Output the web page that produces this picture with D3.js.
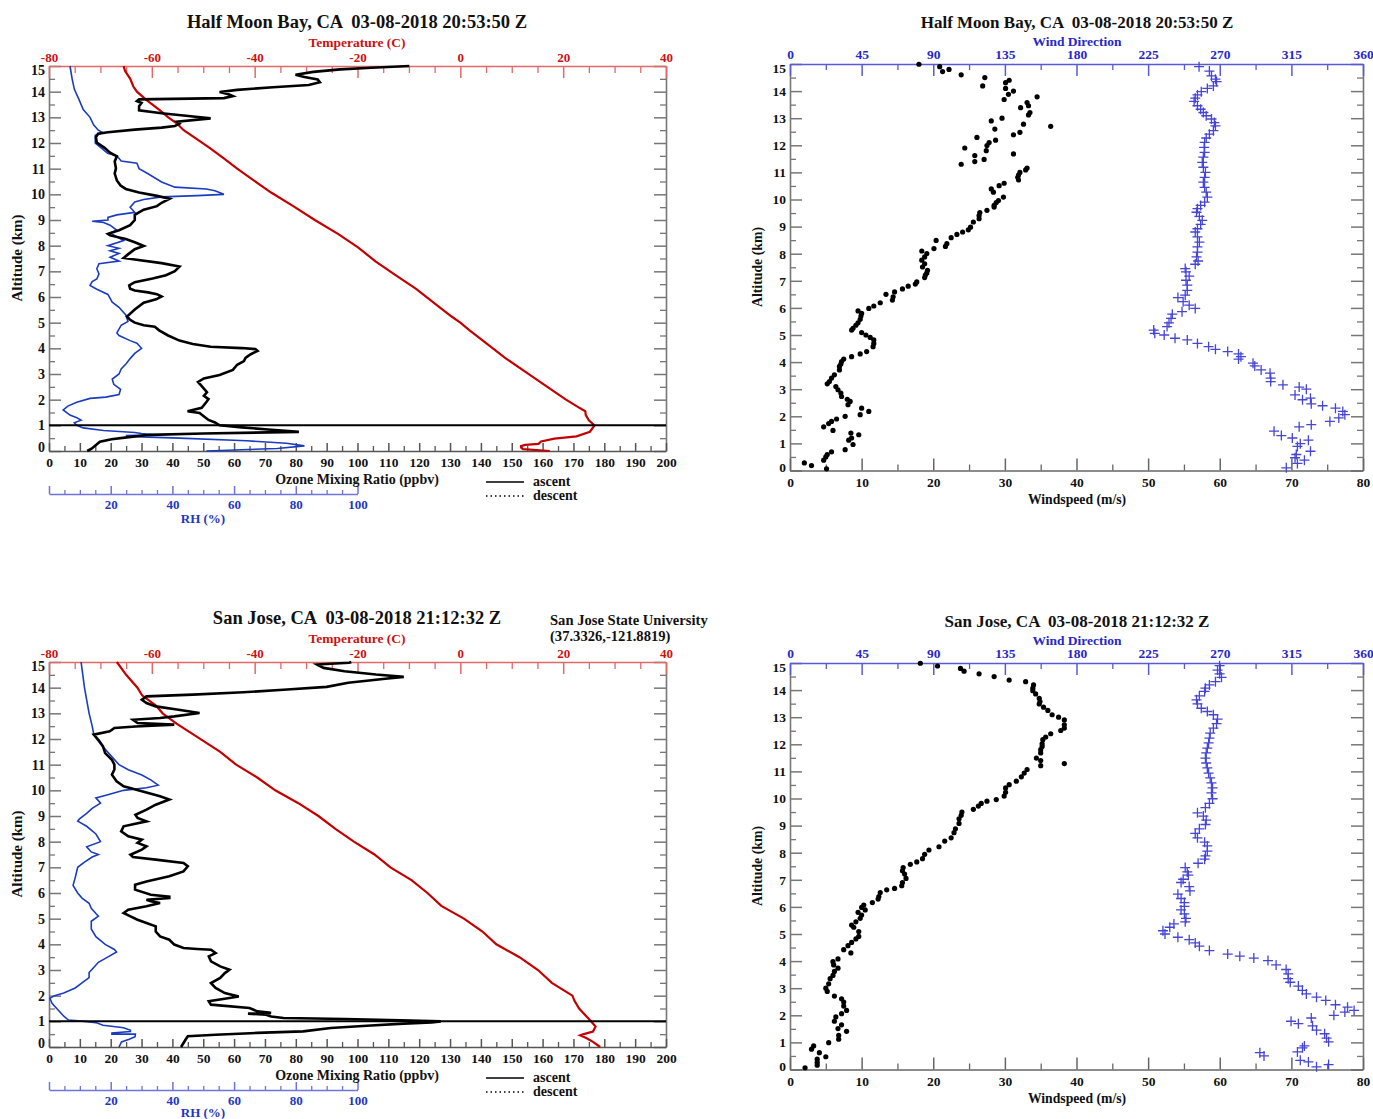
<!DOCTYPE html>
<html>
<head>
<meta charset="utf-8">
<script src="https://cdn.jsdelivr.net/npm/d3@7"></script>
<style>
body { margin: 0; background: #fff; }
svg text { font-family: "Liberation Serif", "Times New Roman", serif; font-weight: bold; }
</style>
</head>
<body>
<svg id="chart" width="1373" height="1119"></svg>
<script>
// ---- data: [altitude km, value] ----
const hmbOzone = [[0,12.4],[0.09,13.8],[0.36,16.5],[0.46,20.3],[0.53,25.2],[0.63,32.7],[0.68,50],[0.745,81],[0.84,71],[0.92,62.5],[1.0,55.3],[1.11,53.8],[1.21,51.7],[1.48,48.8],[1.55,44.9],[1.68,49.5],[1.89,50.9],[2.02,51.7],[2.15,50.2],[2.29,51.2],[2.49,49.8],[2.69,48.3],[2.83,50.2],[2.96,55.3],[3.16,59.6],[3.36,61],[3.5,63.2],[3.63,63.7],[3.77,65.4],[3.9,67.6],[3.97,66.9],[4.01,62.5],[4.06,52.4],[4.17,46.6],[4.3,42.3],[4.5,38.6],[4.7,35.7],[4.84,34.3],[4.9,30.7],[5.0,27.8],[5.11,26.3],[5.24,25.3],[5.51,27.8],[5.78,30.7],[5.91,34.7],[6.02,36.5],[6.11,35],[6.18,32.1],[6.25,27.8],[6.32,26.3],[6.45,26],[6.58,27.8],[6.72,33.6],[6.85,37.9],[7.01,40.8],[7.19,42.3],[7.32,36.5],[7.46,27.8],[7.52,24.2],[7.66,25.6],[7.86,27.8],[7.99,30.7],[8.13,27.8],[8.26,24.9],[8.4,19.8],[8.46,19.1],[8.6,22.7],[8.8,26.3],[9.0,27.8],[9.2,27.8],[9.4,30.7],[9.54,35],[9.67,36.5],[9.83,39.1],[9.94,35],[10.07,29.2],[10.21,24.9],[10.34,23.2],[10.54,22],[10.81,21.3],[11.01,21.7],[11.28,21.3],[11.48,22],[11.62,19.8],[11.82,17.9],[12.02,15.5],[12.22,15.2],[12.36,15.9],[12.42,19.1],[12.52,27.8],[12.6,36.5],[12.66,40.8],[12.76,42.3],[12.83,41.5],[12.96,52.4],[13.05,45.2],[13.16,36.5],[13.27,29.2],[13.43,29.2],[13.56,30],[13.63,28.5],[13.7,29.2],[13.75,56.7],[13.83,59.6],[13.9,58.2],[13.99,55.3],[14.07,61],[14.17,72.6],[14.26,84.2],[14.37,87.8],[14.48,87.1],[14.57,82.8],[14.66,79.9],[14.77,85.7],[14.87,94.4],[14.93,104.5],[15.0,116.8]];
const hmbRH = [[0.0,51],[0.1,74],[0.2,82.8],[0.3,77],[0.4,64],[0.5,42.3],[0.55,30],[0.6,24.9],[0.63,34.3],[0.68,30],[0.72,27.8],[0.8,17.7],[0.9,11.1],[1.0,9],[1.1,8.2],[1.2,10.4],[1.3,9],[1.4,6.8],[1.6,4.6],[1.75,6.1],[1.9,9],[2.05,13.3],[2.1,18.4],[2.2,22.7],[2.4,23.2],[2.6,21],[2.8,20.5],[3.0,22.7],[3.2,23.4],[3.4,25],[3.6,26.3],[3.8,27.8],[4.0,30],[4.2,28.5],[4.3,26.3],[4.5,22.7],[4.6,22],[4.9,23.4],[5.05,25.6],[5.3,24.9],[5.6,22.7],[5.8,20.5],[6.1,19.1],[6.3,15.5],[6.45,13.3],[6.6,14],[6.7,15.5],[6.9,16.2],[7.1,15.5],[7.3,16.2],[7.4,22.7],[7.55,19.8],[7.7,22.7],[7.8,19.8],[7.9,22.7],[8.0,19.1],[8.2,24.2],[8.3,22.7],[8.5,19.8],[8.6,22],[8.8,19.8],[8.9,17.7],[8.95,14],[9.0,19.1],[9.1,19.1],[9.2,22],[9.3,27.8],[9.5,26.3],[9.7,27.8],[9.8,30.7],[9.9,36.5],[9.95,48],[10.0,56.7],[10.14,53.8],[10.21,51],[10.28,40.8],[10.48,36.5],[10.8,32.1],[11.0,29.2],[11.21,28.5],[11.3,23.4],[11.5,22],[11.6,19],[11.8,17],[12.0,15],[12.3,15],[12.4,17.5],[12.5,16],[12.7,14.5],[13.0,13.3],[13.3,11.1],[13.7,9.7],[14.1,8.2],[14.5,7.5],[15.0,6.8]];
const hmbTemp = [[0,17.4],[0.07,12.2],[0.14,11.8],[0.19,11.8],[0.24,12.6],[0.28,15.2],[0.37,15.7],[0.48,18.3],[0.57,22.6],[0.75,25.2],[1.0,26.1],[1.2,25],[1.4,24.4],[1.55,24.3],[1.75,22.6],[2.02,20.4],[2.56,16.5],[3.09,12.6],[3.63,8.7],[4.17,5.2],[4.7,1.8],[5.0,0],[5.24,-1.7],[5.78,-5.2],[6.32,-8.6],[6.85,-12.6],[7.39,-16.5],[7.93,-19.9],[8.46,-23.8],[9.0,-28.3],[9.54,-32.5],[10.07,-36.8],[10.6,-40.6],[11.0,-43.4],[11.4,-46],[11.8,-48.7],[12.2,-51.6],[12.5,-53.8],[12.76,-55.1],[13.0,-56.8],[13.3,-58.6],[13.7,-61.2],[14.0,-62.9],[14.2,-63.6],[14.5,-64.2],[14.8,-65.2],[15.0,-65.5]];

const sjOzone = [[0.0,42.8],[0.29,44.3],[0.42,45],[0.48,54],[0.55,67.5],[0.61,82.4],[0.74,91.3],[0.83,103],[0.91,115],[0.96,124],[1.0,127],[1.04,114],[1.09,96],[1.13,76],[1.19,72],[1.26,70.4],[1.3,64.5],[1.33,72],[1.39,67.5],[1.52,65],[1.65,52.5],[1.78,51.8],[1.91,58.5],[1.97,61.5],[2.1,57],[2.3,54],[2.49,52.5],[2.69,55.5],[2.88,57],[3.01,58.5],[3.14,55.5],[3.34,52.5],[3.53,51.8],[3.66,54],[3.79,52.5],[3.82,48],[3.86,43.6],[3.99,40.6],[4.18,39],[4.31,36],[4.5,34.6],[4.7,34.6],[4.83,31.6],[4.96,28.7],[5.09,26.4],[5.22,24.2],[5.35,25.7],[5.48,31.6],[5.61,36],[5.68,33],[5.74,31.6],[5.8,39],[5.86,39],[5.93,33],[6.13,27.9],[6.32,27.9],[6.45,31.6],[6.65,39],[6.84,43.6],[7.04,45],[7.17,43.6],[7.3,34.6],[7.4,27.2],[7.49,26.4],[7.69,30.1],[7.82,31.6],[7.95,28.7],[8.08,30.1],[8.21,25.7],[8.4,23.4],[8.6,24.2],[8.79,31.6],[8.92,28.7],[9.05,28],[9.25,31.6],[9.44,34.6],[9.64,39],[9.77,36],[9.96,30.1],[10.16,24.2],[10.35,21.9],[10.61,20.4],[10.81,21.2],[11.0,21.2],[11.19,20.4],[11.45,18.2],[11.71,17.5],[11.97,16],[12.17,14.5],[12.3,19.7],[12.43,21.2],[12.49,28],[12.56,40.6],[12.62,28.7],[12.75,27.2],[12.82,36],[12.88,40.6],[13.01,48.8],[13.14,42],[13.27,34.6],[13.4,31.6],[13.53,30.1],[13.66,31.6],[13.73,46.6],[13.82,63],[13.92,76],[14.03,90],[14.19,97],[14.35,109],[14.42,115],[14.51,106],[14.64,95.8],[14.77,89],[14.9,86.9],[14.97,97.3],[15.0,98]];
const sjRH = [[0.0,22.7],[0.2,23.5],[0.3,26],[0.4,27.9],[0.5,28],[0.5,20.4],[0.55,20.4],[0.6,26.4],[0.65,26.4],[0.75,24.2],[0.85,17.5],[0.95,15.2],[1.0,11.5],[1.05,6.3],[1.2,4.8],[1.5,2.5],[1.7,1],[1.9,0.3],[2.0,1.8],[2.1,4.8],[2.3,8.5],[2.5,10.7],[2.7,13],[2.9,13],[3.1,14.5],[3.3,16],[3.5,19],[3.7,21.9],[3.8,21.2],[4.0,18.2],[4.3,15.2],[4.6,13.7],[4.9,13.7],[5.1,16],[5.2,15.2],[5.4,13.7],[5.6,13],[5.8,10.7],[6.0,9.3],[6.3,7.8],[6.6,8.5],[7.0,9.3],[7.2,11.5],[7.4,14],[7.5,16],[7.6,13.7],[7.8,12.2],[8.0,16.7],[8.3,15.2],[8.6,12.2],[8.8,9.3],[8.9,10],[9.1,12.2],[9.3,14],[9.5,16.7],[9.6,16],[9.7,15.2],[9.8,18.2],[10.0,24.2],[10.1,31.6],[10.2,35.4],[10.4,33.1],[10.6,30.1],[10.8,25.7],[11.0,22.7],[11.4,19.7],[11.7,17.5],[12.0,15.5],[12.2,14.5],[12.5,14],[13.0,13],[14.0,11.5],[15.0,10.4]];
const sjTemp = [[0.0,27.2],[0.2,25.8],[0.35,24.5],[0.45,23.3],[0.5,24],[0.6,25.8],[0.8,26.3],[1.0,25.4],[1.2,24.5],[1.5,23.1],[1.8,22.2],[2.0,21.8],[2.5,17.8],[3.0,15.1],[3.5,11.5],[4.0,7],[4.5,4.3],[5.0,0.7],[5.5,-3.7],[6.0,-6.4],[6.5,-9.5],[7.0,-13.6],[7.5,-16.7],[8.0,-20.7],[8.5,-24.3],[9.0,-27.6],[9.5,-31.5],[10.0,-36],[10.5,-39.5],[11.0,-43.6],[11.5,-46.7],[12.2,-52.1],[12.6,-55.2],[13.0,-57.9],[13.3,-59.2],[13.7,-61.9],[14.0,-62.8],[14.5,-65],[15.0,-66.8]];

const hmbSpeed = [[14.99,18.0],[14.9,20.9],[14.72,21.3],[14.8,22.2],[14.6,23.9],[14.5,27.2],[14.19,26.9],[14.31,30.1],[14.4,30.6],[14.1,30.1],[14.0,31.2],[13.88,30.5],[13.69,29.9],[13.58,33.1],[13.39,32.2],[13.46,33.3],[13.21,33.5],[13.12,33.3],[13.79,34.5],[13.0,29.6],[12.9,28.1],[12.78,32.6],[12.6,28.6],[12.7,36.4],[12.48,32.1],[12.39,31.2],[12.29,26.1],[12.19,28.7],[12.1,27.8],[11.99,27.5],[11.9,24.4],[11.8,27.4],[11.68,31.2],[11.62,25.8],[11.48,27.1],[11.4,25.8],[11.3,23.9],[11.16,33.1],[11.09,32.9],[11.0,32.1],[10.9,31.9],[10.82,31.8],[10.72,31.9],[10.6,29.9],[10.51,29.2],[10.39,28.1],[10.27,28.4],[10.09,29.8],[9.96,29.1],[9.89,28.8],[9.78,28.5],[9.72,28.5],[9.6,27.5],[9.52,26.5],[9.41,26.4],[9.29,26.4],[9.17,25.6],[8.98,25.2],[8.88,24.9],[8.8,24.1],[8.71,23.3],[8.59,22.5],[8.37,21.9],[8.27,21.7],[8.49,20.4],[8.19,20.1],[8.1,18.4],[8.0,19.1],[7.88,18.8],[7.76,18.4],[7.63,18.8],[7.51,18.5],[7.39,19.2],[7.29,19.1],[7.21,18.9],[7.12,18.8],[6.96,17.7],[6.88,17.5],[6.8,16.5],[6.7,15.7],[6.59,14.6],[6.5,13.4],[6.41,14.4],[6.29,14.3],[6.19,12.6],[6.07,11.7],[5.98,11.0],[5.89,9.5],[5.8,10.0],[5.7,9.9],[5.58,9.8],[5.45,9.5],[5.36,9.2],[5.25,8.8],[5.18,8.6],[5.09,10.0],[5.0,10.6],[4.91,11.2],[4.82,11.7],[4.69,11.7],[4.57,11.6],[4.39,10.7],[4.3,9.8],[4.2,8.6],[4.11,7.5],[4.02,7.2],[3.93,7.1],[3.84,6.9],[3.71,6.9],[3.53,6.2],[3.41,5.8],[3.28,5.5],[3.2,5.2],[3.1,6.4],[2.98,6.7],[2.86,7.1],[2.73,7.2],[2.63,8.0],[2.55,8.4],[2.43,8.1],[2.3,10.0],[2.18,11.0],[2.06,9.8],[2.0,7.7],[1.9,6.5],[1.81,5.8],[1.73,5.4],[1.61,4.7],[1.48,6.0],[1.38,8.5],[1.32,9.6],[1.2,8.6],[1.12,8.2],[0.96,8.8],[0.77,7.7],[0.69,5.8],[0.59,5.2],[0.5,5.0],[0.38,4.7],[0.28,2.0],[0.18,3.0],[0.06,5.1]];
const hmbDir = [[14.9,257],[14.74,263.5],[14.56,264.8],[14.44,267.3],[14.35,268],[14.19,266],[14.1,262.2],[13.98,258.4],[13.86,256],[13.74,254.6],[13.62,253.9],[13.46,256],[13.33,258],[13.21,259.7],[13.09,261.5],[12.97,264.8],[12.84,266.6],[12.72,267.3],[12.54,266],[12.41,263.5],[12.27,261.5],[12.11,260.5],[11.92,260.2],[11.74,260.5],[11.56,259.7],[11.37,259],[11.19,259.7],[11.0,261],[10.82,260.5],[10.64,259.7],[10.45,260.5],[10.27,261.5],[10.09,262.2],[9.9,260.5],[9.78,258],[9.66,256],[9.53,255.4],[9.38,257.2],[9.23,259],[9.08,258],[8.92,256],[8.8,254.6],[8.62,256],[8.43,257.2],[8.25,256],[8.06,256],[7.88,255.4],[7.73,256.4],[7.61,254.6],[7.45,248.3],[7.33,248.8],[7.17,250.8],[7.02,248.8],[6.84,249.6],[6.65,249.6],[6.47,248.3],[6.38,243.7],[6.23,247],[6.1,250.8],[5.98,254.6],[5.86,246.3],[5.77,240.2],[5.61,239.4],[5.45,238.1],[5.31,236.9],[5.18,228.5],[5.06,229.2],[5.0,235.1],[4.88,241.9],[4.82,249.6],[4.69,256],[4.57,263],[4.47,267.3],[4.39,275],[4.3,281.8],[4.2,283.3],[4.11,281.8],[3.96,290.9],[3.86,292],[3.71,296],[3.59,301.6],[3.41,302],[3.28,302],[3.16,309.7],[3.08,319.9],[3.0,324.4],[2.79,317.3],[2.67,327],[2.61,322],[2.46,327.5],[2.39,334.6],[2.3,342.7],[2.18,347.3],[2.06,348.6],[1.94,344.8],[1.81,339.2],[1.69,327.5],[1.61,319.9],[1.45,304.1],[1.29,308.7],[1.2,315.6],[1.12,325.7],[0.99,320.6],[0.89,318.8],[0.71,327],[0.59,318.1],[0.47,317.3],[0.38,323.2],[0.26,318.8],[0.1,311.8]];

const sjSpeed = [[14.99,18.2],[14.89,20.6],[14.8,23.8],[14.7,24.3],[14.6,26.4],[14.5,28.5],[14.37,30.6],[14.31,32.9],[14.19,34.0],[14.07,33.9],[13.98,33.9],[13.86,34.3],[13.7,34.8],[13.58,34.9],[13.49,34.8],[13.37,35.4],[13.25,36.0],[13.09,36.6],[13.0,37.5],[12.9,38.3],[12.72,38.3],[12.6,38.3],[12.51,37.8],[12.39,36.4],[12.27,35.7],[12.17,35.3],[12.02,35.2],[11.92,35.2],[11.8,35.0],[11.68,35.0],[11.49,34.4],[11.4,35.0],[11.21,35.0],[11.29,38.3],[11.07,33.1],[10.94,32.7],[10.8,32.3],[10.64,31.6],[10.51,30.6],[10.39,30.1],[10.23,30.1],[10.09,29.9],[9.96,28.8],[9.9,27.5],[9.82,26.7],[9.72,26.3],[9.6,25.6],[9.5,24.0],[9.38,23.9],[9.25,23.6],[9.08,23.6],[8.88,23.1],[8.74,22.9],[8.55,22.5],[8.43,21.6],[8.22,20.8],[8.1,19.4],[7.94,18.8],[7.78,18.5],[7.66,17.7],[7.57,16.8],[7.45,15.8],[7.33,15.7],[7.21,16.0],[7.05,16.2],[6.9,15.7],[6.78,15.6],[6.68,14.6],[6.63,13.5],[6.53,12.6],[6.38,12.4],[6.29,12.3],[6.16,11.5],[6.07,10.3],[5.98,10.0],[5.89,10.5],[5.8,9.5],[5.7,10.0],[5.58,9.8],[5.45,9.2],[5.33,8.6],[5.25,8.9],[5.09,9.6],[4.91,9.6],[4.82,9.2],[4.69,8.6],[4.57,8.1],[4.42,7.5],[4.3,8.5],[4.08,6.7],[3.98,6.0],[3.86,6.1],[3.74,6.7],[3.62,6.2],[3.47,6.0],[3.35,5.6],[3.16,5.4],[3.0,5.0],[2.88,5.2],[2.71,6.2],[2.61,7.2],[2.49,7.5],[2.34,7.5],[2.18,7.9],[2.06,7.2],[1.94,6.4],[1.78,6.2],[1.65,7.2],[1.51,6.7],[1.41,7.9],[1.26,6.8],[1.12,6.8],[0.99,5.4],[0.87,3.3],[0.75,3.0],[0.62,4.1],[0.47,5.0],[0.38,3.8],[0.26,3.8],[0.16,3.8],[0.06,2.1]];
const sjDir = [[14.9,269.9],[14.74,268.6],[14.6,269.9],[14.47,271.1],[14.31,267.3],[14.19,263.5],[14.07,261],[13.95,260.5],[13.79,257.2],[13.64,255.4],[13.49,256],[13.33,258.4],[13.21,262.2],[13.09,266],[12.93,268.6],[12.76,268],[12.6,266],[12.41,264],[12.23,263.5],[12.05,263],[11.86,262.2],[11.68,261.5],[11.49,261],[11.31,261.5],[11.13,262.2],[10.94,263],[10.76,264],[10.58,264.8],[10.39,265.5],[10.21,264.8],[9.99,265.5],[9.82,263.5],[9.66,261],[9.47,256],[9.35,259.7],[9.2,261.5],[9.04,261],[8.88,257.2],[8.71,254.6],[8.55,256],[8.39,260.5],[8.25,262.2],[8.06,262.2],[7.88,261],[7.76,260.5],[7.61,256.4],[7.45,248.3],[7.29,249.6],[7.17,250.3],[7.02,247],[6.9,245.7],[6.75,250.8],[6.59,251.3],[6.47,243.7],[6.31,245.7],[6.16,247.8],[6.02,247.8],[5.89,245.7],[5.74,247.8],[5.58,248.8],[5.45,248.3],[5.37,241.2],[5.25,238.6],[5.12,234.3],[5.0,235.6],[4.88,243.7],[4.79,250.8],[4.67,254.6],[4.55,257.2],[4.39,263.5],[4.26,275],[4.18,282.6],[4.11,291.4],[4.02,300.3],[3.86,305.4],[3.69,311.7],[3.53,313],[3.35,313],[3.22,314.3],[3.08,319.4],[2.92,321.9],[2.79,324.4],[2.67,330.8],[2.55,336.6],[2.39,342.7],[2.3,350.3],[2.18,354.4],[2.12,348.6],[2.0,341.7],[1.9,327.5],[1.78,314.8],[1.69,319.4],[1.61,328.3],[1.45,330.8],[1.32,335.9],[1.16,337.1],[1.02,338.4],[0.87,323.2],[0.8,322],[0.65,318.8],[0.62,295.2],[0.5,297.8],[0.34,320.6],[0.28,325.7],[0.18,338.4],[0.1,330.8]];

const altTicks = d3.range(0, 16);
const altMinor = d3.range(0.5, 15, 1);

const svg = d3.select("#chart");

// plain labels with an ascii minus, like the original plot
const plain = function (d) { return String(d); };

// generic axis with major + minor ticks pointing into the plot
function drawAxis(o) {
    var make = { left: d3.axisLeft, right: d3.axisRight, top: d3.axisTop, bottom: d3.axisBottom }[o.orient];
    var tr = (o.orient === "left" || o.orient === "right") ? "translate(" + o.at + ",0)" : "translate(0," + o.at + ")";
    if (o.minor) {
        var mg = svg.append("g").attr("transform", tr)
            .call(make(o.scale).tickValues(o.minor).tickSize(-o.minLen).tickFormat(""));
        mg.select(".domain").remove();
        mg.selectAll("line").attr("stroke", o.color).attr("stroke-width", 1.3);
    }
    var g = svg.append("g").attr("transform", tr)
        .call(make(o.scale).tickValues(o.major).tickSizeInner(-o.majLen).tickSizeOuter(0)
            .tickPadding(o.pad || 4).tickFormat(o.fmt || ""));
    g.attr("font-size", o.fontSize || 13);
    g.select(".domain").attr("stroke", o.color).attr("stroke-width", 1.6);
    g.selectAll(".tick line").attr("stroke", o.color).attr("stroke-width", 1.5);
    g.selectAll(".tick text").attr("fill", o.labelColor || "#111");
    return g;
}

function altAxes(y, x0, x1, fs) {
    var g = drawAxis({ orient: "left", scale: y, at: x0, major: altTicks, minor: altMinor, majLen: 12, minLen: 6, color: "#777", fmt: plain, fontSize: fs });
    // nudge the end labels inside like the original
    g.selectAll(".tick text").attr("dy", function (d) { return d === 15 ? "0.62em" : d === 0 ? "0.05em" : "0.32em"; });
    drawAxis({ orient: "right", scale: y, at: x1, major: altTicks, minor: altMinor, majLen: 12, minLen: 6, color: "#777" });
}

function addText(x, y, txt, size, color, anchor) {
    return svg.append("text").attr("x", x).attr("y", y).attr("text-anchor", anchor || "middle")
        .attr("font-size", size).attr("fill", color || "#111").style("white-space", "pre").text(txt);
}

// ---- ozone / RH / temperature panel ----
function profilePanel(cfg) {
    var x0 = 49, x1 = 666, off = cfg.off;
    var y = d3.scaleLinear().domain([0, 15]).range([451 + off, 66 + off]);
    var ozX = d3.scaleLinear().domain([0, 200]).range([x0, x1]);
    var tX = d3.scaleLinear().domain([-80, 40]).range([x0, x1]);
    var rhX = d3.scaleLinear().domain([0, 100]).range([x0, 357.5]);

    altAxes(y, x0, x1, 14);
    drawAxis({ orient: "bottom", scale: ozX, at: 451 + off, major: d3.range(0, 201, 10), minor: d3.range(5, 200, 10), majLen: 8, minLen: 5, color: "#555", fmt: plain, pad: 6, fontSize: 13.5 });
    drawAxis({ orient: "top", scale: tX, at: 66 + off, major: d3.range(-80, 41, 20), minor: d3.range(-75, 40, 5).filter(function (d) { return d % 20 !== 0; }), majLen: 12, minLen: 7, color: "#e06a6a", labelColor: "#cc1111", fmt: plain, pad: 4, fontSize: 13 });
    drawAxis({ orient: "bottom", scale: rhX, at: 494 + off, major: d3.range(0, 101, 20), minor: d3.range(5, 100, 5).filter(function (d) { return d % 20 !== 0; }), majLen: 8, minLen: 4, color: "#6f74d8", labelColor: "#2336c0", fmt: function (d) { return d === 0 ? "" : d; }, pad: 6, fontSize: 13 });

    var line = function (xs) {
        return d3.line().x(function (d) { return xs(d[1]); }).y(function (d) { return y(d[0]); });
    };
    svg.append("path").datum(cfg.temp).attr("d", line(tX)).attr("fill", "none").attr("stroke", "#c40000").attr("stroke-width", 2.2);
    svg.append("path").datum(cfg.rh).attr("d", line(rhX)).attr("fill", "none").attr("stroke", "#1a3cbf").attr("stroke-width", 1.6);
    svg.append("path").datum(cfg.ozone).attr("d", line(ozX)).attr("fill", "none").attr("stroke", "#000").attr("stroke-width", 2.6);

    // 1 km reference line
    svg.append("line").attr("x1", x0).attr("x2", x1).attr("y1", y(1)).attr("y2", y(1)).attr("stroke", "#000").attr("stroke-width", 2);

    addText(357, 28 + off, cfg.title, 18.5);
    addText(357, 47 + off, "Temperature (C)", 13.5, "#cc1111");
    addText(357, 484 + off, "Ozone Mixing Ratio (ppbv)", 14);
    addText(203, (off ? 1117 : 523), "RH (%)", 13, "#2336c0");
    svg.append("text").attr("transform", "translate(22," + (258 + off) + ") rotate(-90)")
        .attr("text-anchor", "middle").attr("font-size", 15).attr("fill", "#111").text("Altitude (km)");

    // legend
    svg.append("line").attr("x1", 486).attr("x2", 524).attr("y1", 482 + off).attr("y2", 482 + off).attr("stroke", "#000").attr("stroke-width", 1.5);
    svg.append("line").attr("x1", 486).attr("x2", 524).attr("y1", 496 + off).attr("y2", 496 + off).attr("stroke", "#000").attr("stroke-width", 1.5).attr("stroke-dasharray", "1.5,3");
    addText(533, 486 + off, "ascent", 14, "#111", "start");
    addText(533, 500 + off, "descent", 14, "#111", "start");
}

// ---- wind speed / direction panel ----
function windPanel(cfg) {
    var x0 = 790, x1 = 1363, off = cfg.off;
    var y = d3.scaleLinear().domain([0, 15]).range([470.5 + off, 64 + off]);
    var wsX = d3.scaleLinear().domain([0, 80]).range([x0, x1]);
    var wdX = d3.scaleLinear().domain([0, 360]).range([x0, x1]);

    altAxes(y, x0, x1, 13.5);
    drawAxis({ orient: "bottom", scale: wsX, at: 470.5 + off, major: d3.range(0, 81, 10), minor: d3.range(5, 80, 10), majLen: 12, minLen: 6, color: "#666", fmt: plain, pad: 7, fontSize: 13.5 });
    drawAxis({ orient: "top", scale: wdX, at: 64 + off, major: d3.range(0, 361, 45), minor: d3.range(22.5, 360, 45), majLen: 12, minLen: 6, color: "#5a5ad8", labelColor: "#2828c8", fmt: plain, pad: 5, fontSize: 13.5 });

    svg.append("g").selectAll("circle").data(cfg.speed).enter().append("circle")
        .attr("cx", function (d) { return wsX(d[1]); })
        .attr("cy", function (d) { return y(d[0]); })
        .attr("r", 2.6).attr("fill", "#000");

    svg.append("g").selectAll("path").data(cfg.dir).enter().append("path")
        .attr("d", function (d) {
            var cx = wdX(d[1]), cy = y(d[0]);
            return "M" + (cx - 5) + "," + cy + "H" + (cx + 5) + "M" + cx + "," + (cy - 5) + "V" + (cy + 5);
        })
        .attr("stroke", "#4545d6").attr("stroke-width", 1.3).attr("fill", "none");

    addText(1077, 28 + off, cfg.title, 17);
    addText(1077, 46 + off, "Wind Direction", 13.5, "#2828c8");
    addText(1077, 504 + off, "Windspeed (m/s)", 13.7);
    svg.append("text").attr("transform", "translate(762," + (267 + off) + ") rotate(-90)")
        .attr("text-anchor", "middle").attr("font-size", 13.8).attr("fill", "#111").text("Altitude (km)");
}

profilePanel({ off: 0, title: "Half Moon Bay, CA  03-08-2018 20:53:50 Z", ozone: hmbOzone, rh: hmbRH, temp: hmbTemp });
windPanel({ off: 0, title: "Half Moon Bay, CA  03-08-2018 20:53:50 Z", speed: hmbSpeed, dir: hmbDir });
profilePanel({ off: 596, title: "San Jose, CA  03-08-2018 21:12:32 Z", ozone: sjOzone, rh: sjRH, temp: sjTemp });
windPanel({ off: 599, title: "San Jose, CA  03-08-2018 21:12:32 Z", speed: sjSpeed, dir: sjDir });

// site label for the San Jose panel
addText(550, 625, "San Jose State University", 14.6, "#111", "start");
addText(550, 641, "(37.3326,-121.8819)", 14.6, "#111", "start");
</script>
</body>
</html>
